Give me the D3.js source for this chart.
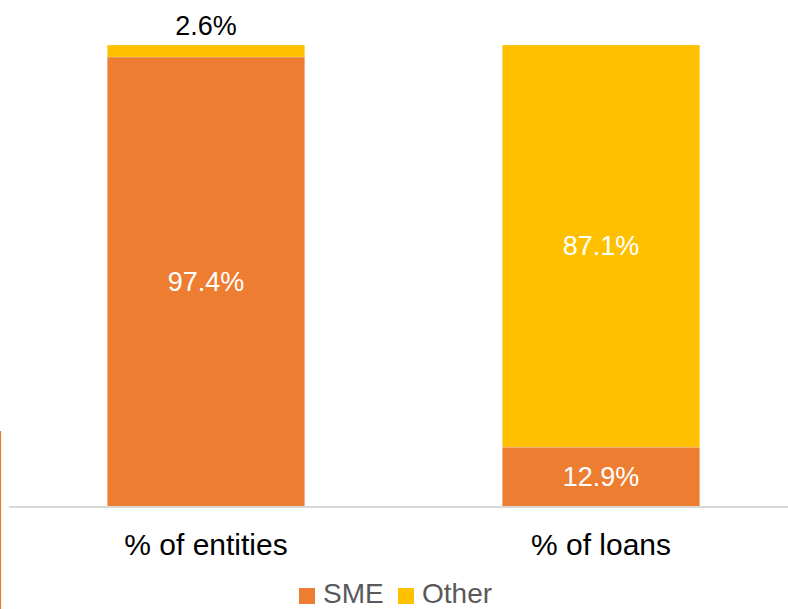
<!DOCTYPE html>
<html>
<head>
<meta charset="utf-8">
<script src="https://cdn.jsdelivr.net/npm/d3@7"></script>
<style>
  html, body { margin: 0; padding: 0; background: #ffffff; }
  svg { display: block; }
  text { font-family: "Liberation Sans", Arial, sans-serif; }
</style>
</head>
<body>
<svg id="chart" width="788" height="609"></svg>
<script>
// Share of SME vs other borrowers, by number of entities and by loan volume
const categories = ["% of entities", "% of loans"];
const smeValues = [97.4, 12.9];
const otherValues = [2.6, 87.1];
const seriesNames = ["SME", "Other"];
const seriesColors = ["#ED7D31", "#FFC000"];

const width = 788, height = 609;
const svg = d3.select("#chart");

const rows = categories.map((c, i) => ({ category: c, SME: smeValues[i], Other: otherValues[i] }));
const stacked = d3.stack().keys(seriesNames)(rows);

const x = d3.scaleBand()
  .domain(categories)
  .range([8.5, 798.5])
  .paddingInner(0.5)
  .paddingOuter(0.25);

const y = d3.scaleLinear()
  .domain([0, 100])
  .range([506.7, 45]);

const color = d3.scaleOrdinal().domain(seriesNames).range(seriesColors);

// thin accent rule at the far left edge
svg.append("line")
  .attr("x1", 0.5).attr("x2", 0.5)
  .attr("y1", 431).attr("y2", height)
  .attr("stroke", "#ED7D31")
  .attr("stroke-width", 1.2);

// stacked bars
const layers = svg.append("g").selectAll("g")
  .data(stacked)
  .join("g")
  .attr("fill", d => color(d.key));

layers.selectAll("rect")
  .data(d => d.map(p => ({ key: d.key, p })))
  .join("rect")
  .attr("x", d => x(d.p.data.category))
  .attr("width", x.bandwidth())
  .attr("y", d => y(d.p[1]))
  .attr("height", d => y(d.p[0]) - y(d.p[1]))
  .attr("stroke", "#ffffff")
  .attr("stroke-opacity", 0.35)
  .attr("stroke-width", 0.6);

// value labels: centred inside a segment, or above the bar when the segment is too thin
const labels = svg.append("g");
stacked.forEach(layer => {
  layer.forEach(p => {
    const v = p.data[layer.key];
    const top = y(p[1]), bottom = y(p[0]);
    const h = bottom - top;
    const cx = x(p.data.category) + x.bandwidth() / 2;
    const inside = h >= 30;
    labels.append("text")
      .attr("x", cx)
      .attr("y", inside ? (top + bottom) / 2 : top - 10)
      .attr("text-anchor", "middle")
      .attr("dominant-baseline", inside ? "central" : "alphabetic")
      .attr("font-size", 27)
      .attr("fill", inside ? "#ffffff" : "#000000")
      .text(v.toFixed(1) + "%");
  });
});

// baseline
svg.append("line")
  .attr("x1", 9).attr("x2", width)
  .attr("y1", 507).attr("y2", 507)
  .attr("stroke", "#d9d9d9")
  .attr("stroke-width", 2);

// category axis
const xAxis = svg.append("g")
  .attr("transform", "translate(0,507)")
  .call(d3.axisBottom(x).tickSize(0).tickPadding(0));
xAxis.select(".domain").remove();
xAxis.selectAll("text")
  .attr("y", 48)
  .attr("dy", null)
  .attr("font-size", 30)
  .attr("font-family", "'Liberation Sans', Arial, sans-serif")
  .attr("fill", "#000000");

// legend
const legendItems = [
  { name: seriesNames[0], x: 299 },
  { name: seriesNames[1], x: 398 }
];
const legend = svg.append("g");
legendItems.forEach(item => {
  legend.append("rect")
    .attr("x", item.x).attr("y", 588)
    .attr("width", 16).attr("height", 16)
    .attr("fill", color(item.name));
  legend.append("text")
    .attr("x", item.x + 24).attr("y", 603)
    .attr("font-size", 28)
    .attr("fill", "#595959")
    .text(item.name);
});
</script>
</body>
</html>
